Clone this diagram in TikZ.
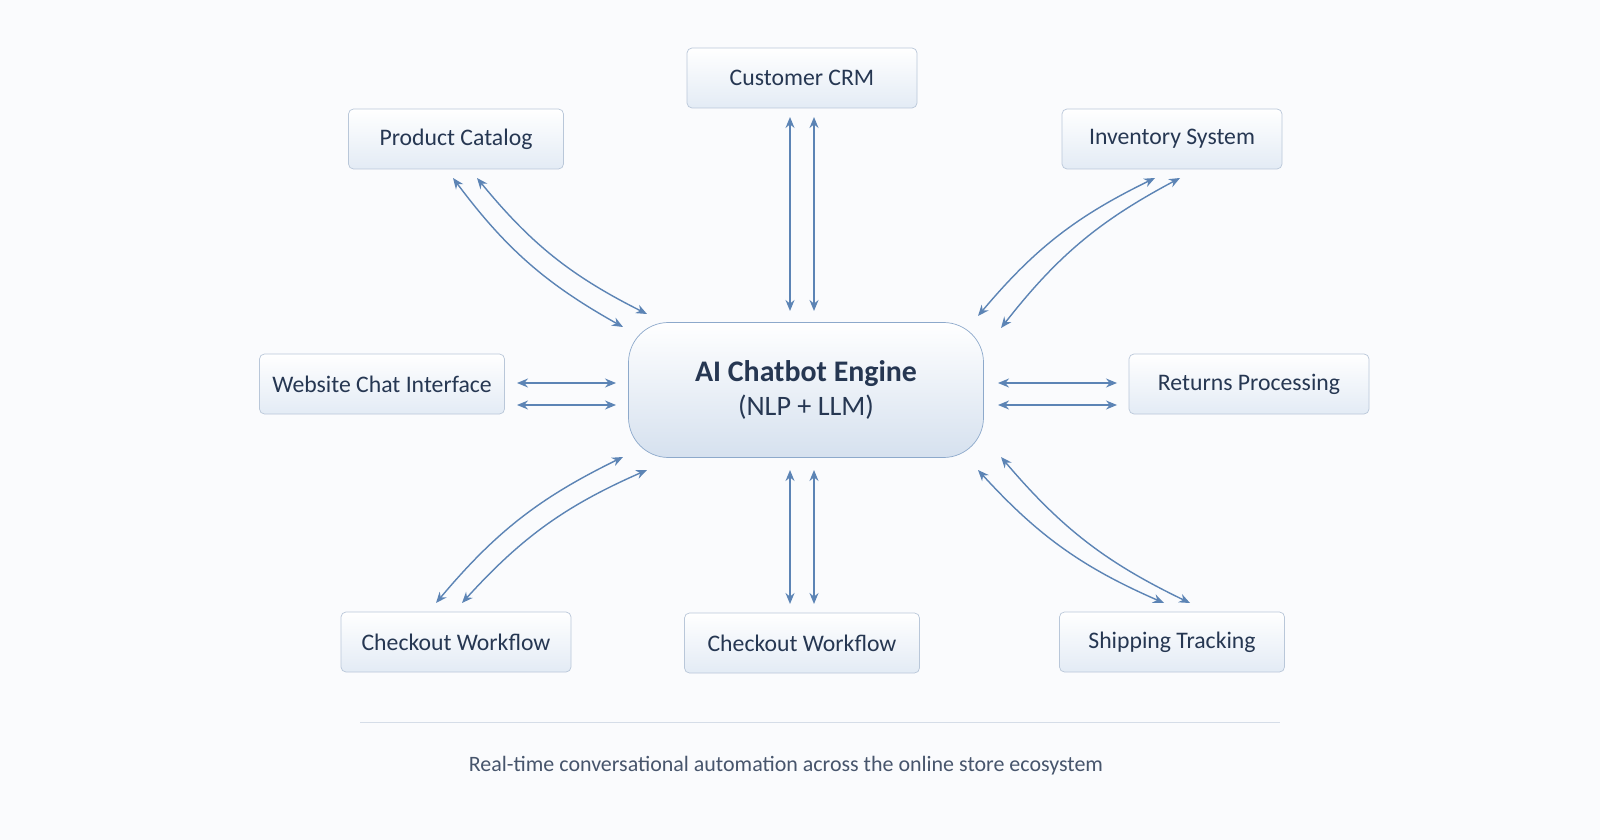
\documentclass[tikz,border=0pt]{standalone}
\usepackage{fontspec}
\setmainfont{Carlito}
\usetikzlibrary{arrows.meta,positioning,calc}
\definecolor{ink}{HTML}{263752}
\definecolor{edge}{HTML}{B9C7D9}
\definecolor{link}{HTML}{5C84B5}
\definecolor{paper}{HTML}{FAFBFD}
\definecolor{shade}{HTML}{E3EBF5}
\tikzset{
  module/.style={
      rectangle,
      rounded corners=1mm,
      minimum height=12mm,
      draw=edge,
      top color=white,
      bottom color=shade,
      text=ink,
      font=\fontsize{13.5}{15}\selectfont
  },
  engine/.style={
      rectangle,
      rounded corners=8mm,
      minimum width=71mm,
      minimum height=27mm,
      draw=link!70,
      top color=white,
      bottom color=shade!90!link,
      text=ink,
      align=center
  },
  link/.style={{Stealth[length=2.2mm,width=1.8mm]}-{Stealth[length=2.2mm,width=1.8mm]}, draw=link, thick}
}
\begin{document}
\begin{tikzpicture}[x=0.2mm,y=-0.2mm]
    \useasboundingbox (0,0) rectangle (1600,840);
    \fill[paper] (0,0) rectangle (1600,840);
    \node[engine] (engine) at (806,390) {{\fontsize{17}{20}\selectfont\bfseries AI Chatbot Engine}\\[1.5mm]{\fontsize{16}{19}\selectfont (NLP + LLM)}};
    \node[module,minimum width=46mm] (crm) at (802,78) {Customer CRM};
    \node[module,minimum width=43mm] (catalog) at (456,139) {Product Catalog};
    \node[module,minimum width=44mm] (inventory) at (1172,139) {Inventory System};
    \node[module,minimum width=49mm] (chat) at (382,384) {Website Chat Interface};
    \node[module,minimum width=48mm] (returns) at (1249,384) {Returns Processing};
    \node[module,minimum width=46mm] (checkoutl) at (456,642) {Checkout Workflow};
    \node[module,minimum width=47mm] (checkoutm) at (802,643) {Checkout Workflow};
    \node[module,minimum width=45mm] (shipping) at (1172,642) {Shipping Tracking};
    \draw[edge!60] (360,722) -- (1280,722);
    \node[text=ink!85,font=\fontsize{12.5}{15}\selectfont] (caption) at (786,766) {Real-time conversational automation across the online store ecosystem};
    % vertical pairs
    \draw[link] (790,117) -- (790,311);
    \draw[link] (814,117) -- (814,311);
    \draw[link] (790,470) -- (790,604);
    \draw[link] (814,470) -- (814,604);
    % horizontal pairs
    \draw[link] (517,383) -- (616,383);
    \draw[link] (517,405) -- (616,405);
    \draw[link] (998,383) -- (1117,383);
    \draw[link] (998,405) -- (1117,405);
    % diagonal pairs
    \draw[link] (453,178) to[bend right=12] (623,327);
    \draw[link] (477,178) to[bend right=12] (647,314);
    \draw[link] (1155,178) to[bend right=12] (978,316);
    \draw[link] (1180,178) to[bend right=12] (1001,328);
    \draw[link] (623,457) to[bend right=12] (436,603);
    \draw[link] (647,470) to[bend right=12] (462,603);
    \draw[link] (978,470) to[bend right=12] (1164,603);
    \draw[link] (1001,457) to[bend right=12] (1190,603);
\end{tikzpicture}
\end{document}
